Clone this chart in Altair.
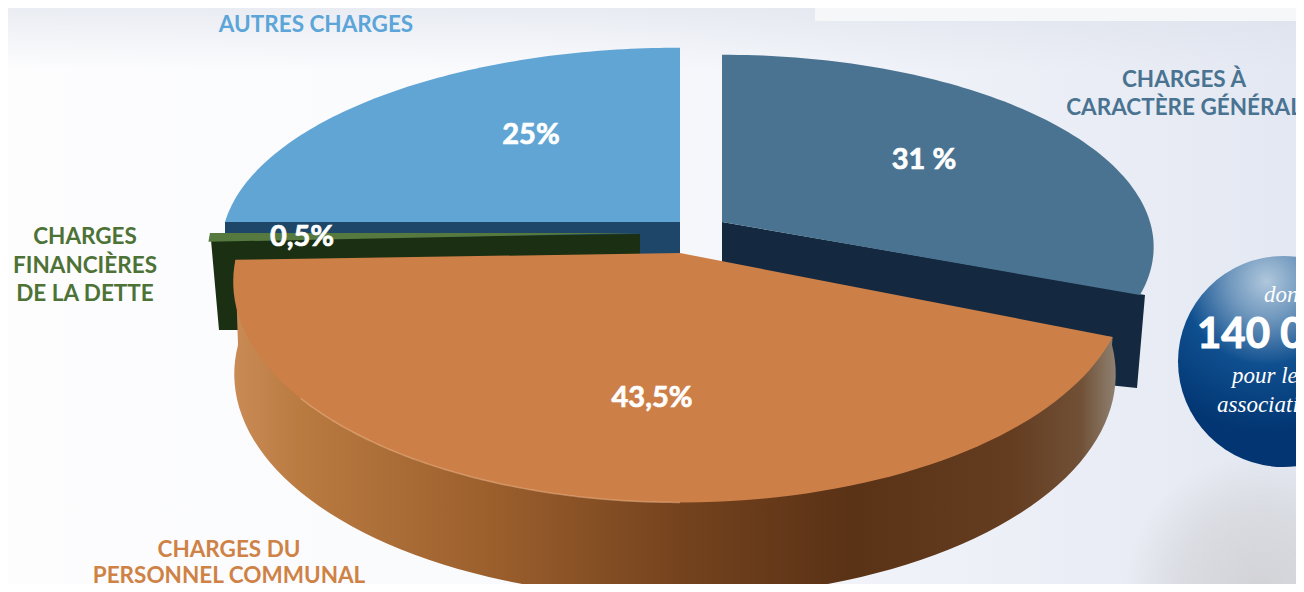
import math
import altair as alt
import pandas as pd

# Values
slices = ["CHARGES À CARACTÈRE GÉNÉRAL", "CHARGES DU PERSONNEL COMMUNAL",
          "CHARGES FINANCIÈRES DE LA DETTE", "AUTRES CHARGES"]
shares = [31.0, 43.5, 0.5, 25.0]
share_labels = ["31 %", "43,5%", "0,5%", "25%"]
label_x = [924, 652, 302, 531]
label_y = [160, 398, 237, 135]

cat_text = ["AUTRES CHARGES", "CHARGES À", "CARACTÈRE GÉNÉRAL", "CHARGES", "FINANCIÈRES",
            "DE LA DETTE", "CHARGES DU", "PERSONNEL COMMUNAL"]
cat_x = [316, 1184, 1184, 85, 85, 85, 229, 229]
cat_y = [25, 80, 108, 237, 266, 294, 550, 576]
cat_color = ["#5ba5d9", "#497391", "#497391", "#4d7236", "#4d7236", "#4d7236", "#cf8245", "#cf8245"]

W, H = 1288, 576
XS = alt.Scale(domain=[8, 1296], nice=False, zero=False)
YS = alt.Scale(domain=[8, 584], nice=False, zero=False, reverse=True)
X = alt.X("x:Q", scale=XS, axis=None)
Y = alt.Y("y:Q", scale=YS, axis=None)

# Slice angles follow from the shares (clockwise from the top)
starts = []
c = 0.0
for s in shares:
    starts.append(c * 3.6)
    c += s

K = 0.13  # perspective of the tilted disc


def rim(cx, cy, a, b, t0, t1, n=90):
    out = []
    for k in range(n + 1):
        t = math.radians(t0 + (t1 - t0) * k / n)
        u, v = math.sin(t), -math.cos(t)
        w = 1 - K * v
        out.append((cx + a * u / w, cy + b * v / w))
    return out


def poly(points, fill, **kw):
    df = pd.DataFrame({"x": [p[0] for p in points], "y": [p[1] for p in points],
                       "i": list(range(len(points)))})
    return alt.Chart(df).mark_line(interpolate="linear-closed", fill=fill, strokeWidth=0,
                                   **kw).encode(x=X, y=Y, order="i:Q")


def wedge(idx, cx, cy, a, b, fill):
    t0 = starts[idx]
    return poly([(cx, cy)] + rim(cx, cy, a, b, t0, t0 + shares[idx] * 3.6), fill)


def grad(direction, stops):
    c = {"x1": 0, "y1": 0, "x2": 1, "y2": 0} if direction == "h" else {"x1": 0, "y1": 0, "x2": 0, "y2": 1}
    return alt.Gradient(gradient="linear", stops=[alt.GradientStop(offset=o, color=col) for o, col in stops], **c)


def rect(x0, x1, y0, y1, fill):
    df = pd.DataFrame({"x": [x0], "x2": [x1], "y": [y0], "y2": [y1]})
    return alt.Chart(df).mark_rect(fill=fill).encode(x=X, x2="x2:Q", y=Y, y2="y2:Q")


def disc(x, y, r, fill):
    df = pd.DataFrame({"x": [x], "y": [y]})
    return alt.Chart(df).mark_circle(fill=fill, size=4 * r * r, opacity=1, clip=True).encode(x=X, y=Y)


def radial(x, y, r, stops):
    return alt.Gradient(gradient="radial", x1=x, y1=y, r1=0, x2=x, y2=y, r2=r,
                        stops=[alt.GradientStop(offset=o, color=col) for o, col in stops])


def texts(items, size, font="Lato", weight="bold", align="center", style="normal", **kw):
    df = pd.DataFrame(items, columns=["x", "y", "t", "c"])
    return alt.Chart(df).mark_text(font=font, fontSize=size, fontWeight=weight, align=align,
                                   baseline="middle", fontStyle=style, **kw).encode(
        x=X, y=Y, text="t:N", color=alt.Color("c:N", scale=None))


layers = []
# background
layers.append(rect(8, 1296, 8, 584, grad("h", [(0, "#fdfdfe"), (0.45, "#f9fafd"), (0.75, "#edf0f7"), (1, "#e4e8f2")])))
layers.append(rect(8, 1296, 8, 70, grad("v", [(0, "rgba(218,223,233,0.55)"), (1, "rgba(218,223,233,0)")])))
layers.append(disc(1260, 590, 135, radial(0.5, 0.5, 0.5, [(0, "#d2d2d6"), (0.6, "rgba(210,211,215,0.6)"), (1, "rgba(210,211,215,0)")])))
layers.append(rect(815, 1296, 8, 21, "#f6f7f9"))

# dark blue slice
layers.append(poly([(722, 222), (1145, 295), (1137, 388), (722, 345)], "#14293f"))
layers.append(wedge(0, 722, 222, 428, 189, "#4a7391"))
# light blue slice
layers.append(poly([(225, 222), (680, 222), (680, 262), (225, 262)], "#1d4668"))
layers.append(wedge(3, 680, 222, 455, 197, "#61a5d4"))
# green slice
layers.append(poly([(211, 240), (640, 234), (640, 258), (240, 266), (240, 330), (219, 330)], "#1b2f12"))
layers.append(wedge(2, 640, 233, 430, 280, "#55793f"))
# orange slice
o_cx, o_cy, o_a, o_b = 680, 253, 443, 217
t0 = starts[1]
top_tip = rim(o_cx, o_cy, o_a, o_b, t0, t0, 1)[0]
bottom = rim(675, 345, 437, 220, 90, 270)
left_top = rim(o_cx, o_cy, o_a, o_b, 268, 268, 1)[0]
layers.append(poly([top_tip] + bottom + [left_top],
                   grad("h", [(0, "#c98a55"), (0.08, "#b97a40"), (0.3, "#9a5e2c"), (0.5, "#75431e"),
                              (0.7, "#5a3216"), (0.88, "#643c20"), (0.96, "#705036"), (1, "#8f8070")])))
layers.append(wedge(1, o_cx, o_cy, o_a, o_b, "#cd7f48"))
hl = rim(o_cx, o_cy, o_a, o_b, 180, 232)
hl_df = pd.DataFrame({"x": [p[0] for p in hl], "y": [p[1] for p in hl], "i": list(range(len(hl)))})
layers.append(alt.Chart(hl_df).mark_line(stroke="#eeb98f", strokeWidth=1.5, opacity=0.5).encode(x=X, y=Y, order="i:Q"))

# blue badge
layers.append(disc(1283.5, 361.5, 105.5, radial(0.42, 0.12, 0.72, [(0, "#afc7dc"), (0.25, "#6f97bd"), (0.55, "#0f4f8f"), (1, "#023572")])))
layers.append(texts([(1264, 295, "dont", "#ffffff"), (1232, 376, "pour les", "#ffffff"),
                     (1217, 405, "associations", "#ffffff")], 23, font="Liberation Serif", weight="normal",
                    align="left", style="italic"))
layers.append(texts([(1197, 335, "140 000", "#ffffff")], 42, align="left", stroke="#ffffff", strokeWidth=1))

# labels
layers.append(texts(list(zip(label_x, label_y, share_labels, ["#ffffff"] * 4)), 29, stroke="#ffffff", strokeWidth=0.7))
layers.append(texts(list(zip(cat_x, cat_y, cat_text, cat_color)), 22.5))

chart = alt.layer(*layers).properties(width=W, height=H, padding=0,
                                      autosize=alt.AutoSizeParams(type="none"),
                                      background="#fdfdfe").configure_view(stroke=None)
chart.save("out.html", embed_options={"renderer": "svg", "actions": False})
